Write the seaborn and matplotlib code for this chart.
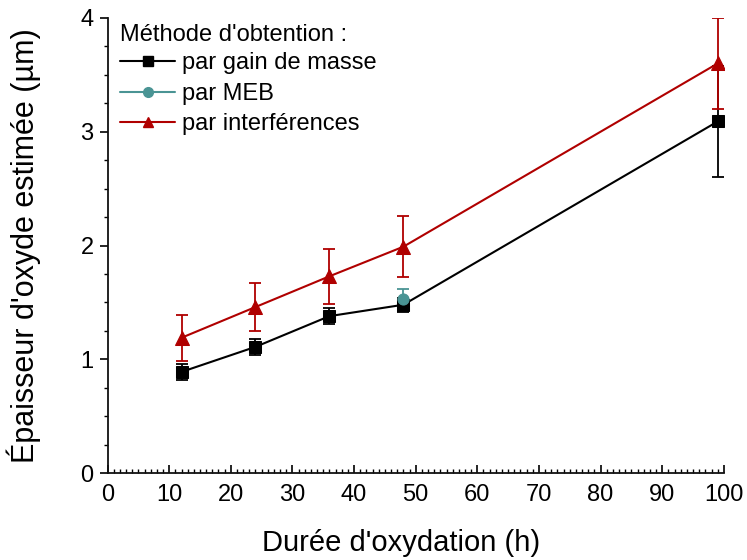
import numpy as np
import pandas as pd
import matplotlib
matplotlib.use("Agg")
import matplotlib.pyplot as plt
from matplotlib.ticker import MultipleLocator
from matplotlib.lines import Line2D
import seaborn as sns

# Data
x_masse = [12, 24, 36, 48, 99]
y_masse = [0.89, 1.11, 1.38, 1.48, 3.09]
e_masse = [0.07, 0.07, 0.07, 0.06, 0.49]

x_meb = [48]
y_meb = [1.53]
e_meb = [0.09]

x_interf = [12, 24, 36, 48, 99]
y_interf = [1.19, 1.46, 1.73, 1.99, 3.60]
e_interf = [0.20, 0.21, 0.24, 0.27, 0.40]

labels = ["par gain de masse", "par MEB", "par interférences"]
colors = ["#000000", "#4a9494", "#b00000"]
markers = ["s", "o", "^"]

sns.set_style("ticks")
plt.rcParams['font.family'] = ['Liberation Sans', 'DejaVu Sans']
plt.rcParams['text.color'] = 'black'

fig = plt.figure(figsize=(7.47, 5.6), dpi=100)
ax = fig.add_axes([0.144, 0.155, 0.825, 0.813])

series = [(x_masse, y_masse, e_masse), (x_meb, y_meb, e_meb), (x_interf, y_interf, e_interf)]
for (xs, ys, es), lab, c, m in zip(series, labels, colors, markers):
    ax.errorbar(xs, ys, yerr=es, fmt='none', ecolor=c, elinewidth=1.3,
                capsize=4.5, capthick=1.3, zorder=2)
    df = pd.DataFrame({"x": xs, "y": ys})
    sns.lineplot(data=df, x="x", y="y", ax=ax, color=c, marker=m,
                 markersize=8 if m != "^" else 9.5, markeredgecolor=c,
                 linewidth=1.5, zorder=3, label=lab)

ax.set_xlim(0, 100)
ax.set_ylim(0, 4)
ax.xaxis.set_major_locator(MultipleLocator(10))
ax.xaxis.set_minor_locator(MultipleLocator(1))
ax.yaxis.set_major_locator(MultipleLocator(1))
ax.yaxis.set_minor_locator(MultipleLocator(0.25))
ax.tick_params(axis='x', which='major', direction='in', length=6, width=1.2, pad=8,
               colors='black', labelsize=17)
ax.tick_params(axis='x', which='minor', direction='in', length=3, width=1, colors='black')
ax.tick_params(axis='y', which='major', direction='out', length=6, width=1.2, pad=4,
               colors='black', labelsize=17)
ax.tick_params(axis='y', which='minor', direction='out', length=3, width=1, colors='black')
for s in ['left', 'bottom']:
    ax.spines[s].set_linewidth(1.3)
    ax.spines[s].set_color('#111111')
sns.despine(ax=ax)

ax.set_xlabel("Durée d'oxydation (h)", fontsize=21, color='black')
ax.set_ylabel("Épaisseur d'oxyde estimée (µm)", fontsize=22, color='black')
ax.xaxis.set_label_coords(0.477, -0.122)
ax.yaxis.set_label_coords(-0.108, 0.5)

handles = [Line2D([0], [0], color=c, marker=m, markersize=7, linewidth=1.5)
           for c, m in zip(colors, markers)]
leg = ax.legend(handles, labels, title="Méthode d'obtention :", loc='upper left',
                bbox_to_anchor=(-0.006, 1.024), frameon=False, fontsize=17,
                title_fontsize=17, handlelength=2.3, handletextpad=0.3,
                labelspacing=0.36, borderaxespad=0.3)
leg._legend_box.align = "left"
leg._legend_box.sep = 5

fig.savefig("out.png", dpi=100)
